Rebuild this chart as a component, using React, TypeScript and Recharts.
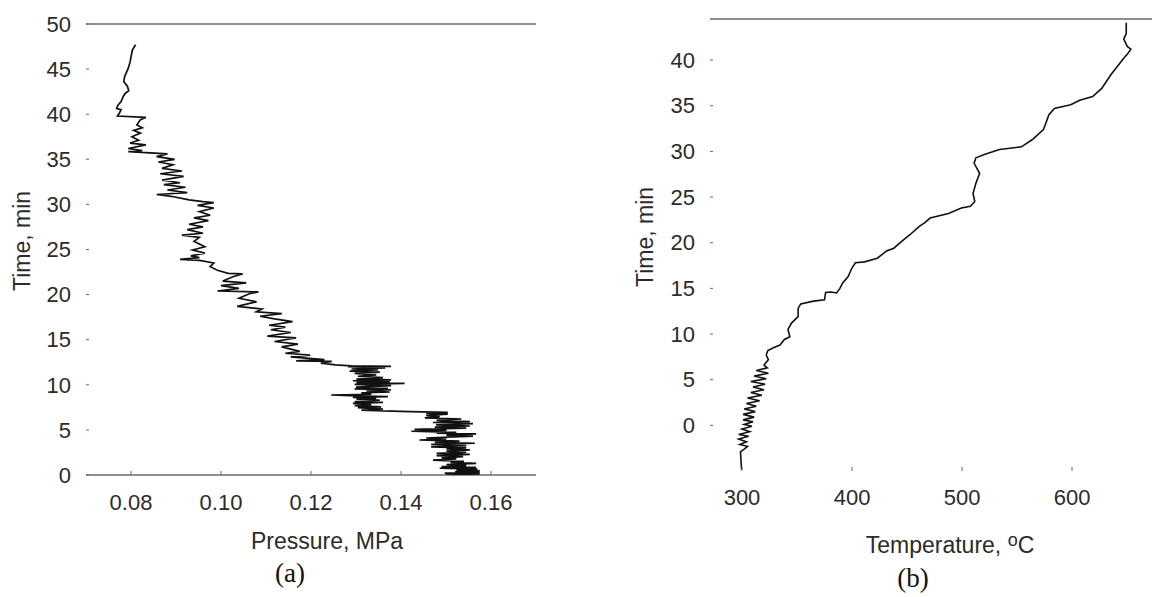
import React from "react";
import { ScatterChart, Scatter, XAxis, YAxis, ReferenceLine } from "recharts";

// ---- Chart (a): pressure vs time ----
const pressureTimes = [
  0.05, 0.12, 0.2, 0.26, 0.35, 0.45, 0.55, 0.65, 0.75, 0.85, 0.92, 1.05, 1.15, 1.29, 1.4, 1.5, 1.66, 1.78, 1.9, 2.03,
  2.15, 2.28, 2.4, 2.52, 2.65, 2.78, 2.88, 3.0, 3.12, 3.25, 3.4, 3.52, 3.62, 3.75, 3.88, 3.99, 4.1, 4.3, 4.43, 4.55,
  4.65, 4.73, 4.85, 4.95, 5.05, 5.2, 5.3, 5.43, 5.55, 5.7, 5.82, 5.91, 6.05, 6.21, 6.33, 6.47, 6.6, 6.75, 6.85, 6.95,
  7.02, 7.05, 7.1, 7.2, 7.3, 7.46, 7.55, 7.7, 7.83, 7.95, 8.05, 8.13, 8.3, 8.4, 8.5, 8.6, 8.68, 8.78, 8.87, 8.95,
  9.1, 9.2, 9.31, 9.45, 9.55, 9.61, 9.75, 9.9, 10.05, 10.15, 10.25, 10.35, 10.45, 10.55, 10.64, 10.8, 10.95, 11.1, 11.27, 11.4,
  11.52, 11.64, 11.75, 11.88, 12.01, 12.05, 12.1, 12.2, 12.4, 12.6, 12.65, 12.8, 13.1, 13.3, 13.5, 13.7, 14.2, 14.5, 14.8, 15.2,
  15.4, 15.8, 16.1, 16.4, 16.6, 17.0, 17.3, 17.6, 17.9, 18.1, 18.4, 18.7, 19.2, 19.6, 20.1, 20.3, 20.4, 20.7, 21.0, 21.3,
  21.5, 22.0, 22.3, 22.35, 22.7, 23.1, 23.5, 23.8, 23.9, 24.1, 24.3, 24.6, 24.95, 25.3, 25.9, 26.35, 26.6, 26.8, 27.2, 27.5,
  27.8, 28.2, 28.5, 28.8, 29.2, 29.6, 29.9, 30.2, 30.3, 30.5, 30.9, 31.1, 31.3, 31.6, 31.9, 32.2, 32.4, 32.7, 33.1, 33.4,
  33.7, 34.0, 34.4, 34.7, 35.0, 35.3, 35.6, 35.85, 35.96, 36.2, 36.6, 36.8, 37.1, 37.5, 37.9, 38.2, 38.5, 38.8, 39.4, 39.65,
  39.8, 40.1, 40.5, 40.65, 41.0, 41.4, 41.9, 42.3, 42.6, 43.1, 43.6, 44.2, 45.1, 45.8, 47.1, 47.7,
];
const pressureValues = [
  0.15, 0.1575, 0.1497, 0.1575, 0.152, 0.1575, 0.1523, 0.157, 0.1486, 0.1567, 0.149, 0.1545, 0.1501, 0.1567, 0.151, 0.154, 0.1471, 0.1523, 0.149, 0.1538,
  0.1479, 0.1553, 0.1479, 0.1545, 0.1501, 0.1553, 0.1501, 0.1545, 0.1467, 0.1545, 0.1467, 0.1564, 0.1475, 0.153, 0.1441, 0.1501, 0.1456, 0.156, 0.1501, 0.1567,
  0.1479, 0.1523, 0.1423, 0.1501, 0.143, 0.1545, 0.1475, 0.1553, 0.1478, 0.156, 0.1471, 0.1553, 0.1479, 0.1534, 0.1453, 0.1486, 0.1456, 0.1504, 0.1456, 0.1504,
  0.142, 0.14, 0.136, 0.1312, 0.136, 0.1304, 0.1356, 0.1297, 0.1334, 0.1293, 0.136, 0.1297, 0.1353, 0.1301, 0.1345, 0.1293, 0.1371, 0.13, 0.1245, 0.1334,
  0.1312, 0.1375, 0.1323, 0.1378, 0.1297, 0.1371, 0.13, 0.1378, 0.1297, 0.1408, 0.1301, 0.1375, 0.1293, 0.1378, 0.1301, 0.136, 0.1304, 0.1345, 0.1297, 0.1353,
  0.1286, 0.1349, 0.129, 0.1365, 0.1282, 0.1378, 0.129, 0.1254, 0.1222, 0.1246, 0.1167, 0.123, 0.1155, 0.1198, 0.1143, 0.1175, 0.1135, 0.1171, 0.1119, 0.1167,
  0.1103, 0.1155, 0.1111, 0.1143, 0.1107, 0.1159, 0.1119, 0.1087, 0.1135, 0.1079, 0.1091, 0.1036, 0.1079, 0.104, 0.1063, 0.1083, 0.0992, 0.104, 0.1, 0.1056,
  0.1004, 0.1028, 0.1048, 0.1016, 0.0992, 0.0976, 0.0984, 0.0952, 0.0909, 0.0952, 0.0933, 0.0964, 0.0937, 0.0964, 0.094, 0.0952, 0.0913, 0.096, 0.0925, 0.096,
  0.0929, 0.0972, 0.094, 0.0976, 0.0952, 0.0984, 0.0948, 0.0984, 0.096, 0.0929, 0.0889, 0.0857, 0.0925, 0.0881, 0.0921, 0.0873, 0.0909, 0.0869, 0.0917, 0.0865,
  0.0913, 0.0869, 0.0893, 0.0861, 0.0897, 0.0857, 0.0881, 0.0794, 0.0825, 0.0794, 0.0833, 0.0798, 0.0817, 0.0802, 0.0821, 0.0806, 0.0825, 0.0813, 0.0821, 0.0833,
  0.077, 0.0774, 0.0778, 0.0768, 0.0771, 0.0778, 0.0782, 0.0787, 0.0795, 0.0792, 0.0784, 0.0786, 0.0794, 0.0798, 0.0803, 0.081,
];
const pressureTicks = [0.08, 0.1, 0.12, 0.14, 0.16];
const timeTicksA = [0, 5, 10, 15, 20, 25, 30, 35, 40, 45, 50];

// ---- Chart (b): temperature vs time ----
const tempTimes = [
  -4.85, -2.9, -2.6, -2.3, -2.1, -1.8, -1.5, -1.2, -1.0, -0.7, -0.4, -0.1, 0.1, 0.4, 0.6, 0.9, 1.2, 1.5, 1.8, 2.1,
  2.4, 2.7, 3.0, 3.3, 3.6, 3.9, 4.2, 4.5, 4.8, 5.1, 5.4, 5.7, 6.0, 6.3, 6.6, 7.2, 7.7, 8.2, 8.5, 8.8,
  9.4, 9.7, 10.5, 11.2, 11.9, 12.8, 13.3, 13.6, 13.75, 14.55, 14.6, 14.5, 15.0, 15.6, 16.3, 17.2, 17.8, 17.9, 18.3, 19.1,
  19.4, 20.1, 20.9, 21.8, 22.2, 22.7, 23.2, 23.8, 24.0, 24.5, 25.4, 26.5, 27.6, 28.7, 29.3, 29.7, 30.2, 30.5, 31.3, 32.4,
  32.9, 34.0, 34.7, 35.1, 35.6, 36.0, 36.9, 38.4, 40.2, 40.6, 41.2, 41.5, 42.3, 42.9, 44.1,
];
const tempValues = [
  299.6, 298.6, 302, 305, 298, 304, 297, 306, 297, 307, 300, 309, 302, 310, 301, 311, 301, 312, 302, 313,
  304, 316, 305, 318, 308, 320, 310, 321, 308, 322, 311, 324, 313, 323, 320, 324, 322, 323.5, 328.5, 334.5,
  338.5, 343.5, 341.8, 345, 351, 351, 353.4, 365, 375, 376, 381, 386, 389, 391.5, 396.5, 399.8, 403.1, 411.4, 423, 431.4,
  438, 444.6, 452.9, 461.2, 466.2, 471, 487.7, 499.4, 507.6, 511.6, 510, 512.6, 516, 511, 512.6, 520.9, 534, 554, 564, 574,
  575.6, 578.9, 583.9, 598.8, 607, 618.7, 627, 635.3, 647, 650, 653.5, 650.2, 647, 649.3, 649.3,
];
const tempTicks = [300, 400, 500, 600];
const timeTicksB = [0, 5, 10, 15, 20, 25, 30, 35, 40];

const pressureData = pressureTimes.map((t, i) => ({ t, p: pressureValues[i] }));
const tempData = tempTimes.map((t, i) => ({ t, T: tempValues[i] }));

const FONT = "'Liberation Sans', Arial, sans-serif";
const TXT = "#2b2b2b";

const LeftTick = (props: any) => {
  const { x, y, payload } = props;
  return (
    <g>
      <line x1={x} x2={x + 3} y1={y} y2={y} stroke="#666" strokeWidth={1} />
      <text x={x - 15} y={y} dy="0.35em" textAnchor="end" fontFamily={FONT} fontSize={22} fill={TXT}>
        {payload.value}
      </text>
    </g>
  );
};

const makeBottomTick = (fmt: (v: number) => string, gap: number) => (props: any) => {
  const { x, y, payload } = props;
  return (
    <g>
      <line x1={x} x2={x} y1={y - 4} y2={y} stroke="#666" strokeWidth={1} />
      <text x={x} y={y + gap} dy="0.35em" textAnchor="middle" fontFamily={FONT} fontSize={22} fill={TXT}>
        {fmt(payload.value)}
      </text>
    </g>
  );
};

const BottomTickA = makeBottomTick((v) => v.toFixed(2), 27);
const BottomTickB = makeBottomTick((v) => String(v), 26);

const noDot = () => <g />;

const label = (style: React.CSSProperties): React.CSSProperties => ({
  position: "absolute",
  fontFamily: FONT,
  fontSize: 23,
  color: TXT,
  whiteSpace: "nowrap",
  lineHeight: 1,
  ...style,
});

export default function App() {
  return (
    <div style={{ position: "absolute", left: 0, top: 0, width: 1152, height: 597, background: "#fff", overflow: "hidden" }}>
      <div style={{ position: "absolute", left: 0, top: 0 }}>
        <ScatterChart width={560} height={597} margin={{ top: 24, right: 24, bottom: 0, left: 0 }}>
          <XAxis
            type="number"
            dataKey="p"
            domain={[0.07, 0.17]}
            ticks={pressureTicks}
            height={122}
            tickSize={0}
            tickMargin={0}
            tickLine={false}
            axisLine={{ stroke: "#6a6a6a", strokeWidth: 1.5 }}
            tick={<BottomTickA />}
            allowDataOverflow
          />
          <YAxis
            type="number"
            dataKey="t"
            domain={[0, 50]}
            ticks={timeTicksA}
            width={86}
            tickSize={0}
            tickMargin={0}
            tickLine={false}
            axisLine={false}
            tick={<LeftTick />}
            allowDataOverflow
          />
          <ReferenceLine y={50} stroke="#6a6a6a" strokeWidth={1.5} />
          <Scatter
            data={pressureData}
            line={{ stroke: "#111", strokeWidth: 1.7 }}
            shape={noDot}
            isAnimationActive={false}
          />
        </ScatterChart>
      </div>

      <div style={{ position: "absolute", left: 600, top: 0 }}>
        <ScatterChart width={552} height={597} margin={{ top: 19, right: 0, bottom: 0, left: 0 }}>
          <XAxis
            type="number"
            dataKey="T"
            domain={[270.9, 672.7]}
            ticks={tempTicks}
            height={126}
            tickSize={0}
            tickMargin={0}
            tickLine={false}
            axisLine={false}
            tick={<BottomTickB />}
            allowDataOverflow
          />
          <YAxis
            type="number"
            dataKey="t"
            domain={[-5, 44.5]}
            ticks={timeTicksB}
            width={110}
            tickSize={0}
            tickMargin={0}
            tickLine={false}
            axisLine={false}
            tick={<LeftTick />}
            allowDataOverflow
          />
          <ReferenceLine y={44.5} stroke="#6a6a6a" strokeWidth={1.5} />
          <Scatter
            data={tempData}
            line={{ stroke: "#111", strokeWidth: 1.6 }}
            shape={noDot}
            isAnimationActive={false}
          />
        </ScatterChart>
      </div>

      <div style={label({ left: 22, top: 241, transform: "translate(-50%, -50%) rotate(-90deg)" })}>Time, min</div>
      <div style={label({ left: 645, top: 237, transform: "translate(-50%, -50%) rotate(-90deg)" })}>Time, min</div>
      <div style={label({ left: 327, top: 541, transform: "translate(-50%, -50%)" })}>Pressure, MPa</div>
      <div style={label({ left: 950, top: 544, transform: "translate(-50%, -50%)" })}>
        Temperature, <sup style={{ fontSize: 18, verticalAlign: "0.4em" }}>o</sup>C
      </div>
      <div
        style={label({
          left: 290,
          top: 573,
          transform: "translate(-50%, -50%)",
          fontFamily: "'Liberation Serif', 'DejaVu Serif', serif",
          fontSize: 27,
          color: "#111",
        })}
      >
        (a)
      </div>
      <div
        style={label({
          left: 913,
          top: 578,
          transform: "translate(-50%, -50%)",
          fontFamily: "'Liberation Serif', 'DejaVu Serif', serif",
          fontSize: 27,
          color: "#111",
        })}
      >
        (b)
      </div>
    </div>
  );
}
